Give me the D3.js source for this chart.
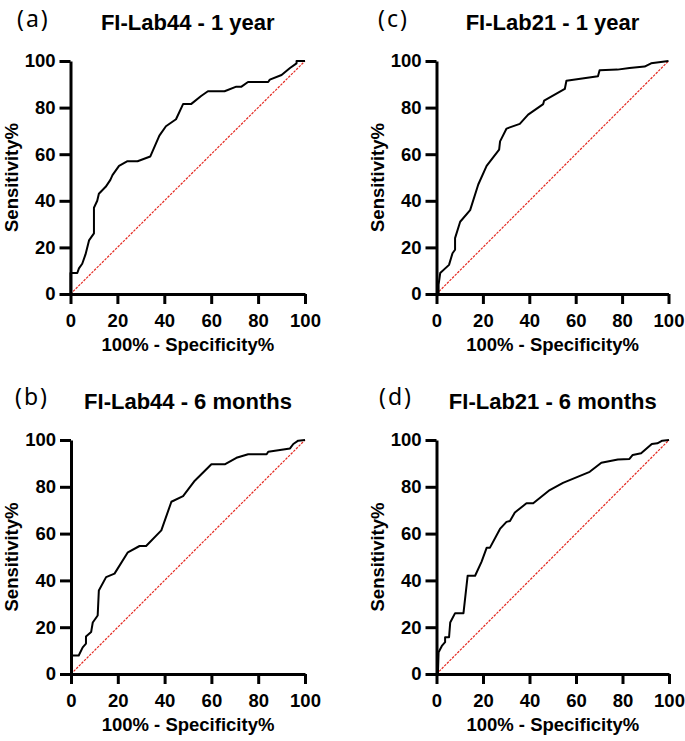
<!DOCTYPE html>
<html>
<head>
<meta charset="utf-8">
<script src="https://cdn.jsdelivr.net/npm/d3@7"></script>
<style>
  body { margin: 0; background: white; }
  svg text { font-family: "Liberation Sans", Arial, sans-serif; }
  .tick text { font-weight: bold; font-size: 18.5px; }
  .axis path, .axis line { stroke: black; stroke-width: 3; }
</style>
</head>
<body>
<svg id="chart" width="685" height="741"></svg>
<script>
// ROC curves: [100% - specificity, sensitivity]
const lab44Year1 = [[0,0],[0,9],[2.9,9],[3.6,11],[5,13],[6.4,17],[7.9,23],[10,26],[10,37],[11.4,40],
  [12.1,43],[15,46],[17,49],[17.9,51],[20.7,55],[24.3,57],[28.6,57],[34,59],[37.9,68],[40.7,72],
  [45,75],[48,81.5],[51.4,81.5],[55.7,85],[58.6,87],[65.7,87],[70.7,89],[72.9,89],[75.7,91],
  [84.3,91],[85,92],[90,94],[93.6,97],[96.4,99],[96.4,100],[100,100]];

const lab21Year1 = [[0,0],[0.9,0],[0.9,4],[1.6,9],[5.4,12.5],[6.9,17.5],[8,19],[8,24],[10.2,31],
  [14.5,36],[18,47],[21.6,55],[27,62],[27.4,65.5],[30.2,71],[35.9,73],[39.5,77],[46,81.5],
  [46.4,83],[55.3,88],[56,91.5],[69.6,93.5],[70.3,96],[78,96.3],[83.2,97],[89.7,97.6],
  [92.5,99],[100,100]];

const lab44Month6 = [[0,0],[0,7.9],[3.3,7.9],[5,11.4],[6.4,13],[6.4,16],[8.6,17.9],[9.3,22],
  [11.4,25],[11.9,35.7],[15,41.4],[18.6,42.9],[24.3,52],[29.3,54.7],[32.1,54.7],[38.6,61.4],
  [42.9,73.6],[47.9,76],[52.9,82.6],[60,89.6],[65.7,89.6],[70.7,92.4],[75.7,93.9],[83.6,93.9],
  [84.3,95],[93.6,96.4],[95,98.3],[97.1,99.7],[100,100]];

const lab21Month6 = [[0,0],[0.6,0],[0.9,9.3],[2.3,12],[3.7,13.6],[3.7,15.7],[5.4,15.7],[5.9,22],
  [8,26],[11.6,26],[13.4,42],[16.6,42],[19.4,48],[21.6,54],[23,54],[27.3,62],[30.1,65],
  [31.6,65.4],[33.7,69],[38.7,73],[41.6,73],[48.7,78.6],[54.4,81.7],[65.9,86.4],[70.9,90.3],
  [78,91.7],[83,91.9],[84.4,93.6],[88,94.3],[92.6,98.3],[95,98.6],[97.1,99.7],[100,100]];

const panelLetters = ["(a)", "(c)", "(b)", "(d)"];
const panelTitles = ["FI-Lab44 - 1 year", "FI-Lab21 - 1 year", "FI-Lab44 - 6 months", "FI-Lab21 - 6 months"];
const panelCurves = [lab44Year1, lab21Year1, lab44Month6, lab21Month6];
const tickValues = [0, 20, 40, 60, 80, 100];
const reference = [[0,0],[100,100]];

// plot boxes in pixels
const boxes = [
  {left: 70.5, right: 305, top: 61, bottom: 294, letterX: 17, letterY: 27},
  {left: 436.5, right: 668.5, top: 61, bottom: 294, letterX: 378, letterY: 27},
  {left: 71, right: 305, top: 440, bottom: 674, letterX: 15, letterY: 405},
  {left: 436.5, right: 669, top: 440, bottom: 674, letterX: 379, letterY: 405}
];

var svg = d3.select("#chart");

panelCurves.forEach(function(curve, i) {
  var b = boxes[i];
  var x = d3.scaleLinear().domain([0, 100]).range([b.left, b.right]);
  var y = d3.scaleLinear().domain([0, 100]).range([b.bottom, b.top]);
  var g = svg.append("g");

  // diagonal reference line
  g.append("path")
    .datum(reference)
    .attr("d", d3.line().x(d => x(d[0])).y(d => y(d[1])))
    .attr("fill", "none")
    .attr("stroke", "#e42a22")
    .attr("stroke-width", 1.2)
    .attr("stroke-dasharray", "2.5,1.2");

  g.append("g")
    .attr("class", "axis")
    .attr("transform", "translate(0," + b.bottom + ")")
    .call(d3.axisBottom(x).tickValues(tickValues).tickSize(10).tickSizeOuter(0).tickPadding(6))
    .call(a => a.selectAll(".tick text").attr("dy", "0.9em"));

  g.append("g")
    .attr("class", "axis")
    .attr("transform", "translate(" + b.left + ",0)")
    .call(d3.axisLeft(y).tickValues(tickValues).tickSize(11).tickSizeOuter(0).tickPadding(4));

  g.selectAll(".axis text").attr("fill", "black");

  // ROC curve
  g.append("path")
    .datum(curve)
    .attr("d", d3.line().x(d => x(d[0])).y(d => y(d[1])))
    .attr("fill", "none")
    .attr("stroke", "black")
    .attr("stroke-width", 2)
    .attr("stroke-linejoin", "round");

  var cx = (b.left + b.right) / 2;

  g.append("text")
    .attr("x", cx)
    .attr("y", b.top - 31)
    .attr("text-anchor", "middle")
    .style("font-weight", "bold")
    .style("font-size", "22px")
    .text(panelTitles[i]);

  g.append("text")
    .attr("x", b.letterX)
    .attr("y", b.letterY)
    .style("font-family", "'Noto Sans', sans-serif")
    .style("font-size", "23px")
    .style("letter-spacing", "2px")
    .text(panelLetters[i]);

  g.append("text")
    .attr("x", cx)
    .attr("y", b.bottom + 57)
    .attr("text-anchor", "middle")
    .style("font-weight", "bold")
    .style("font-size", "18.5px")
    .text("100% - Specificity%");

  g.append("text")
    .attr("transform", "translate(" + (b.left - 53) + "," + ((b.top + b.bottom) / 2) + ") rotate(-90)")
    .attr("text-anchor", "middle")
    .style("font-weight", "bold")
    .style("font-size", "18.5px")
    .text("Sensitivity%");
});
</script>
</body>
</html>
